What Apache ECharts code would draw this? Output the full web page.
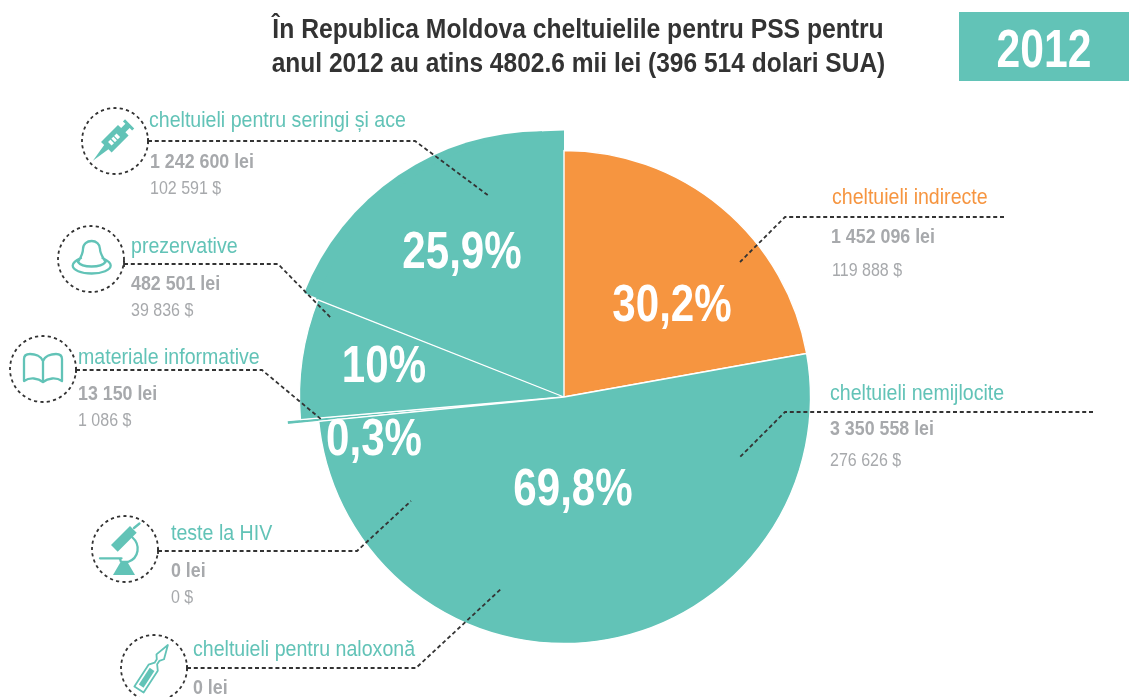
<!DOCTYPE html>
<html><head><meta charset="utf-8">
<style>html,body{margin:0;padding:0;background:#fff}#c{width:1129px;height:697px}</style>
<script src="https://cdn.jsdelivr.net/npm/echarts@6/dist/echarts.min.js"></script>
</head><body><div id="c"></div>
<script>
// ---- data ----
const sliceNames = ['cheltuieli indirecte','cheltuieli nemijlocite','materiale informative','prezervative','cheltuieli pentru seringi și ace'];
const sliceValues = [30.2, 69.8, 0.3, 10, 25.9];
const sliceLabels = ['30,2%','69,8%','0,3%','10%','25,9%'];
const itemNames = ['cheltuieli pentru seringi și ace','prezervative','materiale informative','teste la HIV','cheltuieli pentru naloxonă','cheltuieli indirecte','cheltuieli nemijlocite'];
const itemLei = ['1 242 600 lei','482 501 lei','13 150 lei','0 lei','0 lei','1 452 096 lei','3 350 558 lei'];
const itemUsd = ['102 591 $','39 836 $','1 086 $','0 $','','119 888 $','276 626 $'];
const titleLines = ['În Republica Moldova cheltuielile pentru PSS pentru','anul 2012 au atins 4802.6 mii lei (396 514 dolari SUA)'];
const yearLabel = '2012';

// ---- styling and layout ----
const TEAL='#62C3B7', ORANGE='#F69540', GREY='#A7A9AC', DARK='#333333';
const FONT='"Liberation Sans",Arial,sans-serif';
const C=[564,397];
const sliceColors=[ORANGE,TEAL,TEAL,TEAL,TEAL];
const labelPos=[[672,307],[573,491],[374,441],[384,368],[462,254]];
const itemLayout=[
 {x:[149,150,150],y:[121,162,189],c:TEAL,line:[[148,141],[415,141],[489,196]]},
 {x:[131,131,131],y:[247,284,311],c:TEAL,line:[[124,264],[278,264],[332,319]]},
 {x:[78,78,78],y:[358,394,421],c:TEAL,line:[[76,370],[262,370],[322,420]]},
 {x:[171,171,171],y:[534,571,598],c:TEAL,line:[[158,551],[357,551],[411,501]]},
 {x:[193,193,193],y:[650,688,720],c:TEAL,line:[[187,668],[416,668],[502,588]]},
 {x:[832,831,832],y:[198,237,271],c:ORANGE,line:[[1004,217],[785,217],[740,262]]},
 {x:[830,830,830],y:[394,429,461],c:TEAL,line:[[1093,412],[785,412],[740,457]]}
];
const circles=[[115,141],[91,259],[43,369],[125,549],[154,668]];

function pieLayer(center,r,shown,border,z){
  return {type:'pie',center:center,radius:[0,r],z:z,silent:true,animation:false,startAngle:90,clockwise:true,
    avoidLabelOverlap:false,label:{show:false},labelLine:{show:false},
    data:sliceValues.map((v,i)=>({name:sliceNames[i],value:v,itemStyle:shown.includes(i)
      ?{color:sliceColors[i],borderColor:'#fff',borderWidth:border}
      :{color:'transparent',borderWidth:0}}))};
}

function txt(x,y,t,size,fill,weight,align,sx){
  return {type:'text',z:20,x:x,y:y,scaleX:sx||0.89,silent:true,style:{x:0,y:0,text:t,fontFamily:FONT,fontSize:size,fontWeight:weight||'normal',fill:fill,
    textAlign:align||'left',textVerticalAlign:'middle'}};
}
const g=[];
g.push(txt(578,30,titleLines[0],27.5,DARK,'bold','center',0.897));
g.push(txt(578.5,64,titleLines[1],27.5,DARK,'bold','center',0.892));
g.push({type:'rect',z:10,shape:{x:959,y:12,width:170,height:69},style:{fill:TEAL}});
g.push(txt(1044,52,yearLabel,53,'#fff','bold','center',0.805));
sliceLabels.forEach((t,i)=>g.push(txt(labelPos[i][0],labelPos[i][1],t,52,'#fff','bold','center',0.81)));
const dash={stroke:DARK,lineWidth:1.8,lineDash:[4,2.8],fill:null};
itemNames.forEach((n,i)=>{
  const L=itemLayout[i];
  g.push({type:'polyline',z:15,shape:{points:L.line},style:dash});
  g.push(txt(L.x[0],L.y[0],n,22,L.c));
  g.push(txt(L.x[1],L.y[1],itemLei[i],20,GREY,'bold'));
  if(itemUsd[i]) g.push(txt(L.x[2],L.y[2],itemUsd[i],18,GREY));
  if(i<5) g.push({type:'line',z:15,shape:{x1:L.line[0][0],y1:L.line[0][1]-3,x2:L.line[0][0],y2:L.line[0][1]+3},style:{stroke:DARK,lineWidth:1.8}});
});
circles.forEach(c=>g.push({type:'circle',z:15,shape:{cx:c[0],cy:c[1],r:33},style:{stroke:DARK,lineWidth:1.8,lineDash:[3.2,3.2],fill:null}}));

const sT={stroke:TEAL,lineWidth:2.3,fill:null,lineCap:'round',lineJoin:'round'};
const fT={fill:TEAL};
function p(d,style){return {type:'path',shape:{pathData:d},style:style};}
const icons=[
  // syringe
  {type:'group',x:115.5,y:138,rotation:Math.PI/4,children:[
    p('M-32 0 L-13 -3 L-13 -7.5 L11 -7.5 L11 -3 L17 -3 L17 -6.5 L20 -6.5 L20 6.5 L17 6.5 L17 3 L11 3 L11 7.5 L-13 7.5 L-13 3 Z',fT),
    {type:'rect',shape:{x:-8,y:-2.5,width:12,height:5},style:{fill:'#fff'}},
    {type:'line',shape:{x1:-4,y1:-3,x2:-4,y2:3},style:{stroke:TEAL,lineWidth:1.3}},
    {type:'line',shape:{x1:0,y1:-3,x2:0,y2:3},style:{stroke:TEAL,lineWidth:1.3}}
  ]},
  // condom
  p('M78 262 C81 257 83 254 83 249 C83 244 87 241 91.7 241 C96 241 100 244 100 249 C100 254 103 257 105.5 262 C101 268 82 268 78 262 M72.7 265.5 C72.7 261.5 79 259 81 258 M110.7 265.5 C110.7 261.5 104 259 102.5 258 M72.7 265.5 C72.7 270 81 273.5 91.7 273.5 C102 273.5 110.7 270 110.7 265.5',sT),
  // book
  p('M43 361 C41 356 35 354 30 354 C26 354 24 356 24 359 L24 381 C30 377 38 378 43 382 C48 378 56 377 62 381 L62 359 C62 356 60 354 56 354 C51 354 45 356 43 361 L43 382',sT),
  // microscope
  p('M113 575 L135 575 L128 563 L120 563 Z',fT),
  p('M111 545 L117.7 551.7 L136.7 532.7 L130 526 Z',fT),
  p('M134 528 L139.5 523.5',sT),
  p('M100 558.3 L121.5 558.3',sT),
  p('M132 537 C141 545 139 558 128 562 L121 562 L120 559',sT),
  // ampoule
  {type:'group',x:139,y:689.5,rotation:57*Math.PI/180,children:[
    p('M0 -5.5 L26 -5.5 L31 -1.5 L35 -1.5 L39 -4.5 L53 0 L39 4.5 L35 1.5 L31 1.5 L26 5.5 L0 5.5 Z',{stroke:TEAL,lineWidth:1.8,fill:null,lineJoin:'round'}),
    {type:'rect',shape:{x:4,y:-2.8,width:20,height:5.6},style:fT}
  ]}
];

const chart=echarts.init(document.getElementById('c'),null,{renderer:'canvas'});
chart.setOption({
  animation:false,backgroundColor:'#fff',
  series:[
    pieLayer([542,387],255.7,[4],0,1),   // offset outer arc of the top slice
    pieLayer(C,266.6,[4],0,2),           // top slice, body
    pieLayer(C,278,[2],1.3,3),           // protruding sliver
    pieLayer(C,264.5,[3],1.3,4),         // 10% slice
    pieLayer(C,246.5,[0,1],1.4,5),       // main slices
    {type:'custom',coordinateSystem:'none',z:16,silent:true,animation:false,data:[[0]],
      renderItem:()=>({type:'group',children:icons})}
  ],
  graphic:{elements:g}
});
</script></body></html>
